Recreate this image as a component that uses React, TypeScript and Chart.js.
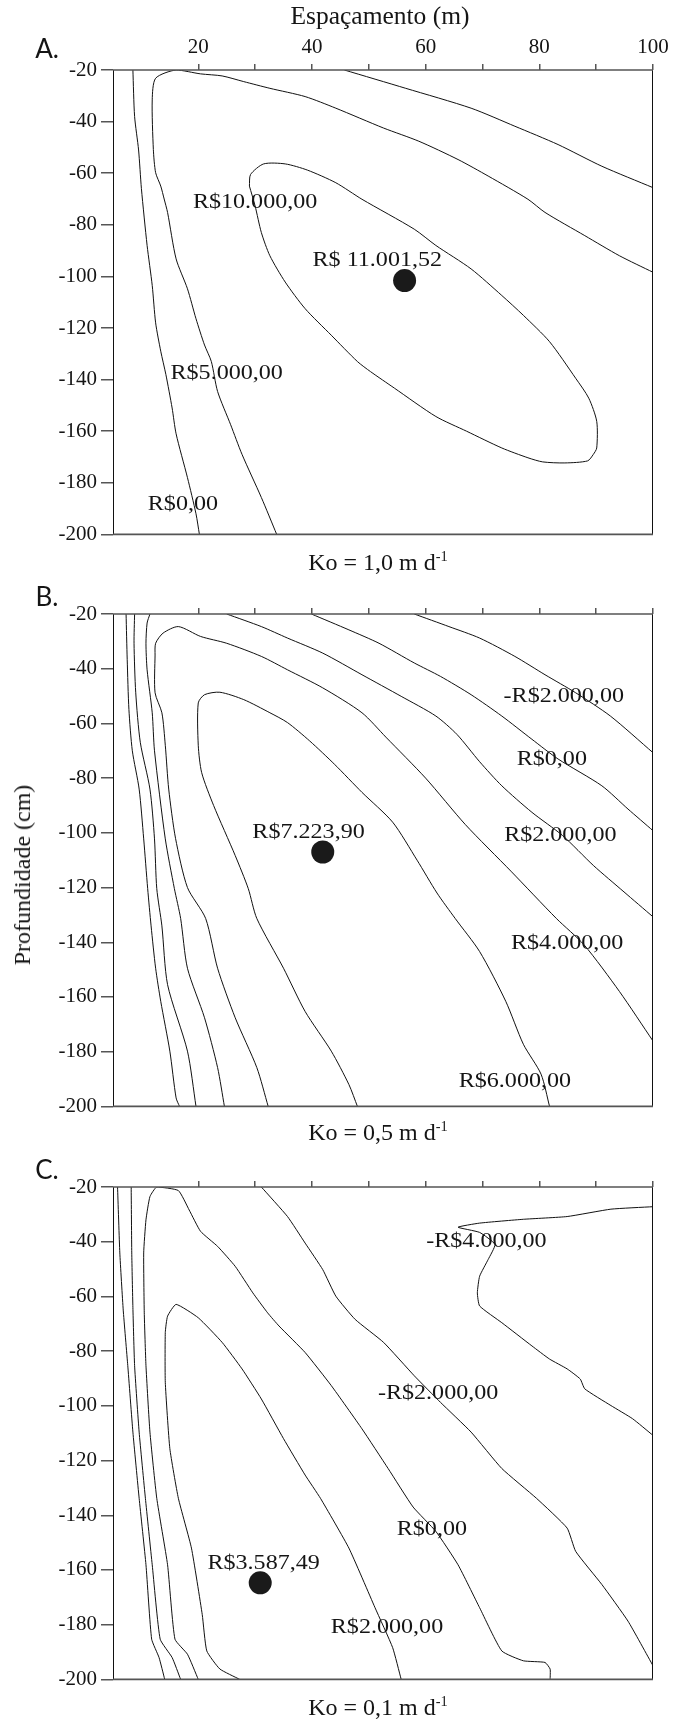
import React, { useEffect, useRef } from "react";
import { Chart, registerables } from "chart.js";

Chart.register(...registerables);

type P = [number, number];

// ---------- axes ----------
const xTickValues = [20, 30, 40, 50, 60, 70, 80, 90, 100];
const xLabelValues = [20, 40, 60, 80, 100];
const yTickValues = [-20, -40, -60, -80, -100, -120, -140, -160, -180, -200];

// ---------- Panel A (Ko = 1,0) ----------
const aLevel0Left: P[] = [[8.5, -20], [8.8, -38], [9.5, -51], [10.0, -66], [11.0, -88], [11.9, -103.5], [12.5, -118], [13.4, -129], [14.3, -138], [15.4, -151], [16.1, -161], [18.1, -178], [19.6, -192], [20.2, -200]];
const aLevel0Right: P[] = [[45.7, -20], [56.5, -27.1], [68.0, -34.8], [75.7, -41.8], [83.3, -48.9], [91.0, -57.3], [100, -65.6]];
const aLevel5000: P[] = [[33.8, -200], [31.1, -185.7], [27.7, -169.0], [25.7, -157.5], [23.4, -144.6], [22.3, -133], [21.1, -126.6], [19.6, -116.4], [18.1, -104.8], [16.1, -93.2], [14.6, -75.2], [14.0, -70], [13.4, -65], [12.5, -59.8], [12.1, -50.8], [11.9, -31.6], [12.5, -23.2], [16.1, -20], [20.4, -21.5], [24.2, -22.3], [28.0, -24.5], [32.6, -27.1], [38.8, -30.3], [44.2, -34.8], [52.6, -42.5], [58.8, -47.6], [65.7, -54.7], [71.0, -61.1], [78.0, -70.1], [81.0, -75.2], [88.0, -84.2], [94.1, -92], [100, -98.4]];
const aLevel10000: P[] = [[29.0, -65], [29.2, -60.5], [31.5, -56.4], [35.3, -56.4], [39.2, -58.8], [44.2, -63.7], [48.8, -70.1], [58.0, -81.7], [61.8, -88.0], [68.0, -97.1], [73.4, -107.4], [77.2, -115.1], [81.8, -125.3], [86.4, -139.5], [88.7, -147.2], [90.1, -156.2], [90.1, -166.5], [89.5, -169], [88.5, -171.5], [84.5, -172.3], [80.6, -171.9], [78.0, -170.3], [73.4, -166.5], [67.2, -160.0], [61.8, -154.3], [54.5, -143.3], [50.3, -136.9], [48.0, -133], [43.4, -122.8], [38.8, -112.5], [35.3, -102.2], [32.6, -92.0], [31.1, -83.0], [30.0, -72.7], [29.0, -65]];
const aMax: P[] = [[56.3, -101.6]];
const aLabelTexts = ["R$10.000,00", "R$ 11.001,52", "R$5.000,00", "R$0,00"];
const aLabelAt: P[] = [[30.0, -71.4], [51.5, -93.9], [25.0, -137.6], [17.3, -188.3]];

// ---------- Panel B (Ko = 0,5) ----------
const bLineA: P[] = [[7.3, -20], [7.5, -36.7], [7.8, -54.9], [8.4, -70], [9.6, -84], [10.4, -102.2], [11.1, -120.4], [11.7, -134], [12.5, -149.5], [13.4, -161.6], [15.0, -179.8], [16.1, -196.9], [16.7, -200]];
const bLineB: P[] = [[8.8, -20], [8.7, -30.7], [9.0, -48.8], [9.8, -66.9], [11.5, -84], [12.3, -102.2], [12.7, -120.4], [13.6, -134], [14.6, -155.5], [18.1, -179.8], [19.6, -200]];
const bLineC: P[] = [[11.5, -20], [11.0, -23.3], [10.8, -30.7], [11.0, -40.4], [11.9, -56.1], [12.3, -70], [14.2, -102.2], [15.8, -120.4], [16.9, -131.3], [18.1, -149.5], [21.1, -167.6], [23.4, -185.8], [24.6, -200]];
const bLevel4000: P[] = [[32.3, -200], [30.3, -185.8], [26.5, -167.6], [23.4, -149.5], [21.3, -131.3], [18.1, -120], [16.0, -102], [14.8, -84], [14.2, -68], [13.6, -56.1], [12.4, -48.8], [12.4, -35], [12.5, -30.7], [13.8, -27.0], [16.5, -24.6], [20.4, -28.2], [25.0, -30.7], [31.1, -35.5], [35.7, -40.4], [41.9, -47.0], [48.8, -56.1], [53.0, -65], [60.0, -80], [67.0, -97], [75.0, -114], [83.0, -131.3], [87.9, -141], [94.1, -158], [100, -176.1]];
const bLevel6000: P[] = [[48.0, -200], [46.5, -192], [43.4, -179.8], [38.8, -165.3], [35.0, -149.5], [30.3, -131.3], [28.8, -120.4], [26.5, -108.3], [22.7, -90], [20.6, -78], [20.0, -68], [20.0, -52.5], [21.1, -49.5], [23.8, -48.6], [28.0, -51.3], [32.6, -56.1], [35.7, -59.7], [39.6, -66.4], [44.0, -75], [48.8, -85.2], [54.2, -96.1], [58.5, -110], [62.0, -122], [65.2, -131.3], [69.5, -143.4], [74.1, -161.6], [77.2, -177.3], [80.3, -188.2], [81.8, -200]];
const bLevel2000: P[] = [[25.0, -20], [31.1, -24.6], [35.7, -28.8], [41.9, -34.3], [48.8, -42.2], [55.7, -50.1], [61.8, -57.3], [65.5, -64], [69.5, -74], [73.4, -82.8], [78.7, -92.5], [84.1, -101], [89.5, -111.9], [94.9, -121.6], [100, -130.7]];
const bLevel0: P[] = [[39.9, -20], [46.5, -25.8], [51.8, -30.7], [58.0, -37.9], [62.6, -42.8], [68.0, -49.5], [73.4, -57.3], [78.7, -65.8], [83.3, -73], [91.0, -82.8], [95.6, -91.3], [100, -99.2]];
const bLevelM2000: P[] = [[58.0, -20], [64.1, -24.6], [69.5, -28.8], [75.7, -35.5], [81.0, -42.2], [86.4, -48.8], [92.5, -57.3], [100, -70.7]];
const bMax: P[] = [[41.9, -107]];
const bLabelTexts = ["-R$2.000,00", "R$0,00", "R$2.000,00", "R$4.000,00", "R$6.000,00", "R$7.223,90"];
const bLabelAt: P[] = [[84.3, -50.1], [82.2, -73.1], [83.7, -101], [84.9, -140.4], [75.7, -190.7], [39.4, -99.8]];

// ---------- Panel C (Ko = 0,1) ----------
const cLineA: P[] = [[5.8, -20], [6.2, -44.1], [6.8, -65], [7.6, -85.3], [8.5, -109.6], [9.6, -133.8], [10.8, -158.1], [11.8, -185.3], [13.1, -192], [14.1, -200]];
const cLineB: P[] = [[8.2, -20], [8.3, -44.1], [8.5, -64], [8.8, -85.3], [9.6, -109.6], [10.7, -133.8], [11.9, -158.1], [13.3, -185.3], [15.4, -192], [16.9, -200]];
const cLevel0: P[] = [[20.0, -200], [18.1, -190.8], [15.9, -185.3], [14.6, -158.1], [12.7, -133.8], [11.5, -109.6], [10.8, -85.3], [10.5, -66], [10.4, -44.1], [10.8, -32], [11.5, -23.5], [12.7, -20], [16.5, -21.3], [18.4, -28.4], [20.4, -36.2], [23.4, -41.7], [26.5, -49], [29.6, -58.7], [32.2, -66], [34.2, -70.8], [38.8, -80.5], [43.4, -92.6], [48.8, -108.4], [53.4, -122.9], [57.8, -137], [61.8, -145.9], [65.7, -158.1], [69.5, -173.8], [73.4, -189.6], [77.2, -193.2], [81.0, -193.8], [81.9, -196.2], [81.9, -200]];
const cLevel2000: P[] = [[27.3, -200], [23.8, -196.2], [21.5, -189.6], [20.7, -176.3], [18.8, -152], [16.5, -133.8], [15.0, -115.6], [14.2, -91.4], [14.2, -73.2], [14.6, -67.2], [16.1, -62.9], [20.0, -67.8], [24.2, -76.8], [27.7, -86.5], [31.1, -97.5], [35.0, -112.0], [38.8, -125.3], [41.5, -133.8], [46.5, -152], [51.1, -173.8], [54.2, -188.4], [55.7, -200]];
const cLevelM2000: P[] = [[31.1, -20], [35.7, -30.8], [38.8, -40.5], [41.9, -50.2], [44.2, -59.9], [47.6, -68.4], [52.6, -76.8], [58.0, -89.0], [62.6, -98.7], [68.0, -109.6], [73.4, -122.9], [79.5, -133.8], [84.9, -144.7], [86.4, -153.2], [91.0, -165.3], [95.6, -178.7], [100, -195.0]];
const cLevelM4000: P[] = [[100, -27.2], [92.6, -28.1], [84.9, -30.8], [77.2, -31.8], [69.5, -33.2], [65.7, -34.7], [69.5, -36.6], [72.2, -41], [71.0, -46.5], [69.5, -52.6], [69.1, -58.7], [69.5, -63.5], [73.4, -69.6], [78.7, -78.1], [81.8, -82.9], [84.9, -86.5], [87.2, -90.2], [88.0, -93.8], [92.6, -99.9], [96.4, -104.7], [100, -110.8]];
const cMax: P[] = [[30.9, -164.7]];
const cLabelTexts = ["-R$4.000,00", "-R$2.000,00", "R$0,00", "R$3.587,49", "R$2.000,00"];
const cLabelAt: P[] = [[70.7, -39.9], [62.2, -95.6], [61.1, -145.3], [31.5, -157.5], [53.2, -181.1]];

// ---------- chart construction ----------
const SERIF = '"Liberation Serif", "Times New Roman", serif';

const boxPlugin = {
  id: "boxAndLabels",
  afterDatasetsDraw(chart: any, _args: any, opts: any) {
    const { ctx, chartArea } = chart;
    const { left, right, top, bottom } = chartArea;
    const xs = chart.scales.x;
    const ys = chart.scales.y;
    ctx.save();
    ctx.strokeStyle = "#111";
    ctx.lineWidth = 1;
    ctx.beginPath();
    ctx.moveTo(left + 0.5, top);
    ctx.lineTo(left + 0.5, bottom);
    ctx.moveTo(right - 0.5, top);
    ctx.lineTo(right - 0.5, bottom);
    ctx.stroke();
    ctx.strokeStyle = "#555";
    ctx.lineWidth = 1.6;
    ctx.beginPath();
    ctx.moveTo(left, top);
    ctx.lineTo(right, top);
    ctx.moveTo(left, bottom);
    ctx.lineTo(right, bottom);
    ctx.stroke();
    ctx.fillStyle = "#151515";
    ctx.font = `21.5px ${SERIF}`;
    ctx.textAlign = "center";
    ctx.textBaseline = "middle";
    const texts: string[] = opts.texts || [];
    const at: P[] = opts.at || [];
    texts.forEach((t, i) => {
      const px = xs.getPixelForValue(at[i][0]);
      const py = ys.getPixelForValue(at[i][1]);
      ctx.save();
      ctx.translate(px, py);
      ctx.scale(1.12, 1);
      ctx.fillText(t, 0, 0);
      ctx.restore();
    });
    ctx.restore();
  },
};

function lineSet(pts: P[], tension: number) {
  return {
    data: pts.map(([x, y]) => ({ x, y })),
    showLine: true,
    pointRadius: 0,
    borderColor: "#111",
    borderWidth: 1,
    tension,
    fill: false,
  };
}

function dotSet(pts: P[]) {
  return {
    data: pts.map(([x, y]) => ({ x, y })),
    showLine: false,
    pointRadius: 11.5,
    pointBackgroundColor: "#1a1a1a",
    pointBorderWidth: 0,
  };
}

interface PanelProps {
  top: number;
  axisH: number;
  lines: P[][];
  dots: P[];
  texts: string[];
  at: P[];
  showXLabels: boolean;
  tension: number;
  plotH: number;
}

function Panel({ top, axisH, lines, dots, texts, at, showXLabels, tension, plotH }: PanelProps) {
  const ref = useRef<HTMLCanvasElement>(null);
  const height = axisH + plotH + 14;
  useEffect(() => {
    if (!ref.current) return;
    const chart = new Chart(ref.current, {
      type: "scatter",
      data: {
        datasets: [...lines.map((l) => lineSet(l, tension)), dotSet(dots)] as any,
      },
      options: {
        responsive: false,
        maintainAspectRatio: false,
        animation: false,
        events: [],
        layout: { padding: { left: 0, right: 31, top: 0, bottom: 14 } },
        plugins: {
          legend: { display: false },
          tooltip: { enabled: false },
          boxAndLabels: { texts, at },
        } as any,
        scales: {
          x: {
            type: "linear",
            position: "top",
            min: 5,
            max: 100,
            afterBuildTicks: (s: any) => {
              s.ticks = xTickValues.map((v) => ({ value: v }));
            },
            afterFit: (s: any) => {
              s.height = axisH;
            },
            ticks: {
              autoSkip: false,
              maxRotation: 0,
              minRotation: 0,
              padding: 4,
              color: "#151515",
              font: { family: SERIF, size: 21 },
              callback: (v: any) => (showXLabels && xLabelValues.includes(Number(v)) ? String(v) : ""),
            },
            grid: { drawOnChartArea: false, drawTicks: true, tickLength: 6, color: "#555", lineWidth: 1.5 },
            border: { display: false },
          },
          y: {
            type: "linear",
            min: -200,
            max: -20,
            afterBuildTicks: (s: any) => {
              s.ticks = yTickValues.map((v) => ({ value: v }));
            },
            afterFit: (s: any) => {
              s.width = 113;
            },
            ticks: {
              autoSkip: false,
              padding: 4,
              color: "#151515",
              font: { family: SERIF, size: 21 },
              callback: (v: any) => String(v),
            },
            grid: { drawOnChartArea: false, drawTicks: true, tickLength: 12, color: "#555", lineWidth: 1.5 },
            border: { display: false },
          },
        },
      } as any,
      plugins: [boxPlugin],
    });
    return () => chart.destroy();
  }, []);
  return (
    <canvas
      ref={ref}
      width={684}
      height={height}
      style={{ position: "absolute", left: 0, top, width: 684, height }}
    />
  );
}

function Txt({ x, y, size, family, children, rotate }: any) {
  return (
    <div
      style={{
        position: "absolute",
        left: x,
        top: y,
        transform: `translate(-50%, -50%)${rotate ? ` rotate(${rotate}deg)` : ""}`,
        fontFamily: family,
        fontSize: size,
        lineHeight: 1,
        whiteSpace: "nowrap",
        color: "#151515",
      }}
    >
      {children}
    </div>
  );
}

function Ko({ v }: { v: string }) {
  return (
    <span>
      Ko = {v} m d
      <span style={{ fontSize: "0.6em", position: "relative", top: "-0.65em" }}>-1</span>
    </span>
  );
}

export default function App() {
  const SANS = "Lato, 'Open Sans', sans-serif";
  return (
    <div style={{ position: "absolute", left: 0, top: 0, width: 684, height: 1722, background: "#fff" }}>
      <Panel
        top={0}
        axisH={70}
        plotH={467}
        lines={[aLevel0Left, aLevel0Right, aLevel5000, aLevel10000]}
        dots={aMax}
        texts={aLabelTexts}
        at={aLabelAt}
        showXLabels={true}
        tension={0.25}
      />
      <Panel
        top={574}
        axisH={40}
        plotH={495}
        lines={[bLineA, bLineB, bLineC, bLevel4000, bLevel6000, bLevel2000, bLevel0, bLevelM2000]}
        dots={bMax}
        texts={bLabelTexts}
        at={bLabelAt}
        showXLabels={false}
        tension={0.25}
      />
      <Panel
        top={1147}
        axisH={40}
        plotH={495}
        lines={[cLineA, cLineB, cLevel0, cLevel2000, cLevelM2000, cLevelM4000]}
        dots={cMax}
        texts={cLabelTexts}
        at={cLabelAt}
        showXLabels={false}
        tension={0.15}
      />
      <Txt x={380} y={16} size={25.5} family={SERIF}>Espaçamento (m)</Txt>
      <Txt x={47} y={48} size={26} family={SANS}>A.</Txt>
      <Txt x={47} y={596} size={26} family={SANS}>B.</Txt>
      <Txt x={47} y={1169} size={26} family={SANS}>C.</Txt>
      <Txt x={378} y={562} size={24} family={SERIF}><Ko v="1,0" /></Txt>
      <Txt x={378} y={1132} size={24} family={SERIF}><Ko v="0,5" /></Txt>
      <Txt x={378} y={1707} size={24} family={SERIF}><Ko v="0,1" /></Txt>
      <Txt x={22} y={875} size={24} family={SERIF} rotate={-90}>Profundidade (cm)</Txt>
    </div>
  );
}
